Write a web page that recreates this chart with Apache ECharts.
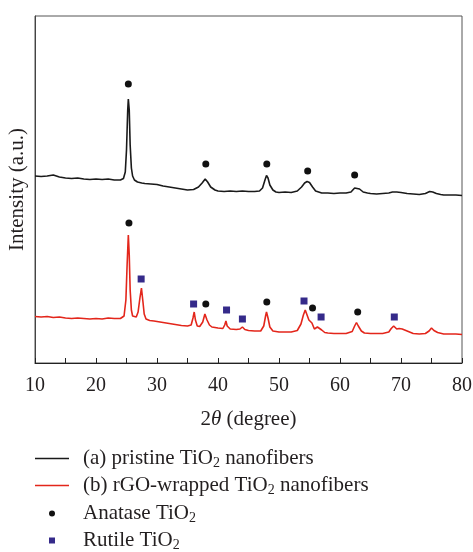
<!DOCTYPE html>
<html>
<head>
    <meta charset="utf-8"/>
    <title>XRD patterns</title>
    <script src="https://cdn.jsdelivr.net/npm/echarts@6/dist/echarts.min.js"></script>
    <style>
        html, body { margin: 0; padding: 0; background: #fff; }
        #main { width: 473px; height: 552px; }
    </style>
</head>
<body>
<div id="main"></div>
<script>
    // 2θ 和强度（任意单位），从图上读的
    var angleA = [10, 11, 12, 13, 14, 15, 16, 17, 18, 19, 20, 21, 22, 23, 24, 24.5, 24.8, 25.0, 25.2, 25.3, 25.45, 25.6, 25.8, 26.0, 26.3, 26.8, 27.5,
        28, 29, 30, 31, 32, 33, 34, 35, 36, 36.8, 37.4, 37.9, 38.3, 38.8, 39.5, 40, 41, 42, 43, 44, 45, 46, 46.8, 47.3, 47.7, 47.95, 48.2, 48.5,
        49, 49.5, 50, 51, 52, 53, 53.7, 54.2, 54.6, 55.0, 55.5, 56, 57, 58, 59, 60, 61, 61.8, 62.4, 62.7, 63.2, 63.8, 64.5, 65, 66, 67, 68,
        68.6, 69.3, 70, 71, 72, 73, 74, 74.7, 75.2, 75.8, 76.5, 77, 78, 79, 80];
    var pristine = [187, 186.5, 187, 188, 186, 185, 184.5, 185, 184, 183.5, 184, 183.5, 184, 183, 183, 184.5, 191, 213, 253, 264, 253, 218, 195, 187, 183, 181, 180,
        179.5, 179, 178.5, 177, 176, 175, 174, 173, 173.5, 176, 180, 184, 181, 176, 173, 172, 171.5, 172, 171.5, 172, 171.5, 171.5, 172, 175, 183, 187.5, 185, 178,
        173, 171, 170.5, 171, 170.5, 172, 176, 180, 181.5, 180.5, 176, 172, 170, 170, 169.5, 170, 170, 171, 175, 176, 174, 171, 170, 169.5, 169, 169.5, 170,
        171, 171, 170.5, 169.5, 169, 168.5, 169.5, 171.5, 171, 169.5, 168.5, 168, 168, 168, 167.5];

    var angleB = [10, 11, 12, 13, 14, 15, 16, 17, 18, 19, 20, 21, 22, 23, 24, 24.6, 24.9, 25.1, 25.3, 25.45, 25.6, 25.8, 26.0, 26.3, 26.6, 26.9, 27.2, 27.45,
        27.7, 27.9, 28.2, 28.8, 29.5, 30, 31, 32, 33, 34, 35, 35.6, 35.9, 36.1, 36.3, 36.6, 37, 37.5, 37.85, 38.2, 38.6, 39, 40, 40.8, 41.1, 41.3, 41.5,
        42, 43, 43.6, 44.0, 44.4, 45, 46, 47, 47.5, 47.8, 47.95, 48.2, 48.5, 49, 50, 51, 52, 53, 53.6, 54.0, 54.3, 54.6, 54.9, 55.1, 55.4, 55.8, 56.3,
        56.6, 57, 57.5, 58, 59, 60, 61, 62, 62.4, 62.7, 63.0, 63.5, 64, 65, 66, 67, 68, 68.4, 68.8, 69.3, 69.7, 70.2, 71, 72, 73, 74, 74.6, 75, 75.4,
        76, 77, 78, 79, 80];
    var wrapped = [46.5, 46, 46.5, 45.5, 46, 45, 44.5, 45, 44.5, 44, 44.5, 44, 45, 44.5, 44.5, 47, 63, 98, 128, 108, 73, 53, 47, 45, 46, 51, 65, 75,
        61, 49, 44, 42.5, 42, 41.5, 40.5, 39.5, 38.5, 37.5, 37, 38, 45, 51, 43, 37, 36.5, 41, 49, 43, 38, 36, 35, 34.5, 38, 42, 37,
        34, 33.5, 34, 36, 33.5, 32.5, 32, 32, 37, 47, 51, 45, 36, 32, 31, 31, 31, 32.5, 39, 48, 53, 48, 43, 44.5, 40, 34, 36,
        37.5, 33, 30.5, 30, 29.5, 29.5, 29.5, 31.5, 37, 40.5, 37, 32, 30, 29.5, 29.5, 29.5, 31, 34.5, 37, 34, 34.5, 34, 32, 29.5, 29, 29.5, 32, 35, 32.5,
        30.5, 29, 29, 29, 28.5];

    // 锐钛矿 (圆点) 和金红石 (方块) 标记
    var anataseX = [25.3, 38.0, 48.0, 54.7, 62.4, 25.4, 38.0, 48.0, 55.5, 62.9];
    var anataseY = [279, 199, 199, 192, 188, 140, 59, 61, 55, 51];
    var rutileX = [27.4, 36.0, 41.4, 44.0, 54.1, 56.9, 68.9];
    var rutileY = [84, 59, 53, 44, 62, 46, 46];

    var seriesNames = ['(a) pristine TiO2 nanofibers', '(b) rGO-wrapped TiO2 nanofibers', 'Anatase TiO2', 'Rutile TiO2'];

    function pairs(xs, ys) {
        var out = [];
        for (var i = 0; i < xs.length; i++) {
            out.push([xs[i], ys[i]]);
        }
        return out;
    }

    var serif = '"Liberation Serif", "DejaVu Serif", serif';
    var textColor = '#231f20';
    function legendText(padLeft) {
        return {
            fontFamily: serif,
            fontSize: 21,
            color: textColor,
            padding: [0, 0, 0, padLeft],
            rich: {
                s: { fontFamily: serif, fontSize: 14, color: textColor, padding: [9, 0, 0, 0] }
            }
        };
    }
    function subFmt(name) {
        return name.replace('TiO2', 'TiO{s|2}');
    }

    var myChart = echarts.init(document.getElementById('main'));
    var option = {
        animation: false,
        grid: {
            left: 35,
            right: 11,
            top: 16,
            bottom: 189,
            outerBoundsMode: 'none',
            show: true,
            borderColor: '#555',
            borderWidth: 1
        },
        legend: [{
            data: [seriesNames[0], seriesNames[1]],
            orient: 'vertical',
            left: 35,
            top: 448,
            padding: 0,
            height: 62,
            icon: 'rect',
            itemWidth: 34,
            itemHeight: 1.5,
            itemGap: 5,
            formatter: subFmt,
            textStyle: legendText(9)
        }, {
            data: [seriesNames[2], seriesNames[3]],
            orient: 'vertical',
            left: 49,
            top: 503,
            padding: 0,
            height: 62,
            itemWidth: 6,
            itemHeight: 6,
            itemGap: 5,
            formatter: subFmt,
            textStyle: legendText(23)
        }],
        xAxis: {
            type: 'value',
            min: 10,
            max: 80,
            interval: 5,
            name: '2{i|θ} (degree)',
            nameLocation: 'middle',
            nameGap: 46,
            nameTextStyle: {
                fontFamily: serif,
                fontSize: 21,
                color: textColor,
                rich: {
                    i: { fontFamily: serif, fontSize: 21, fontStyle: 'italic', color: textColor }
                }
            },
            axisLine: { show: true, lineStyle: { color: '#222', width: 1 } },
            axisTick: { show: true, inside: true, length: 5, lineStyle: { color: '#222' } },
            axisLabel: {
                fontFamily: serif,
                fontSize: 20,
                color: textColor,
                margin: 13,
                formatter: function (v) {
                    return v % 10 === 0 ? String(v) : '';
                }
            },
            splitLine: { show: false }
        },
        yAxis: {
            type: 'value',
            min: 0,
            max: 347,
            name: 'Intensity (a.u.)',
            nameLocation: 'middle',
            nameGap: 7,
            nameTextStyle: { fontFamily: serif, fontSize: 21, color: textColor },
            axisLine: { show: true, lineStyle: { color: '#444', width: 1 } },
            axisTick: { show: false },
            axisLabel: { show: false },
            splitLine: { show: false }
        },
        series: [{
            name: seriesNames[0],
            type: 'line',
            data: pairs(angleA, pristine),
            symbol: 'none',
            lineStyle: { color: '#1a1a1a', width: 1.6 },
            itemStyle: { color: '#1a1a1a' }
        }, {
            name: seriesNames[1],
            type: 'line',
            data: pairs(angleB, wrapped),
            symbol: 'none',
            lineStyle: { color: '#e3261b', width: 1.6 },
            itemStyle: { color: '#e3261b' }
        }, {
            name: seriesNames[2],
            type: 'scatter',
            data: pairs(anataseX, anataseY),
            symbol: 'circle',
            symbolSize: 7,
            itemStyle: { color: '#111', opacity: 1 }
        }, {
            name: seriesNames[3],
            type: 'scatter',
            data: pairs(rutileX, rutileY),
            symbol: 'rect',
            symbolSize: 7,
            itemStyle: { color: '#352a8a', opacity: 1 }
        }]
    };
    myChart.setOption(option);
</script>
</body>
</html>
